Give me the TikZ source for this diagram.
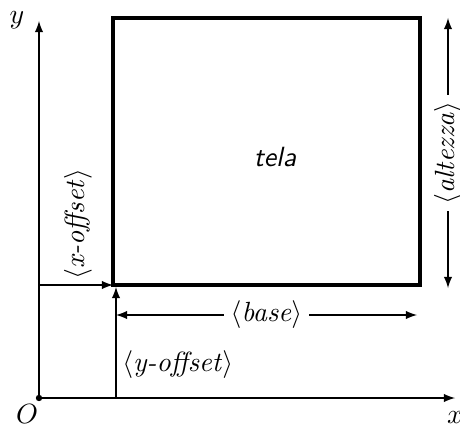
\documentclass[tikz,border=0pt]{standalone}
\usetikzlibrary{arrows}
\begin{document}
\begin{tikzpicture}[x=0.36pt,y=-0.36pt,>=latex,
  dim/.style={<->,line width=0.4pt},
  arr/.style={->,line width=0.4pt},
  lab/.style={inner sep=1pt}]
\useasboundingbox (0,0) rectangle (460,423);
\coordinate (O) at (39,398);
\coordinate (ytip) at (39,21);
\coordinate (xtip) at (455,398);
\coordinate (bl) at (113,285);
\coordinate (tr) at (420,18);
\coordinate (xo) at (39,285);
\coordinate (yo0) at (116,398);
\coordinate (yo1) at (116,287);
\coordinate (b0) at (116,315);
\coordinate (b1) at (417,315);
\coordinate (a0) at (448,18);
\coordinate (a1) at (448,288);
\draw[arr] (O) -- (ytip);
\draw[arr] (O) -- (xtip);
\fill (O) circle[radius=3.2];
\node[lab] (Olab) at (27,414) {$O$};
\node[lab] (ylab) at (17,20) {$y$};
\node[lab] (xlab) at (455,418) {$x$};
\draw[line width=1.2pt] (bl) rectangle (tr);
\node (tela) at (275,157) {\sffamily\itshape tela};
\draw[arr] (xo) -- (bl);
\node[lab,rotate=90] (xol) at (78,224) {$\langle$\textit{x-offset}$\rangle$};
\draw[arr] (yo0) -- (yo1);
\node[lab,anchor=west] (yol) at (119,365) {$\langle$\textit{y-offset}$\rangle$};
\draw[dim] (b0) -- node[fill=white,inner sep=2.5pt] (bl2) {$\langle$\textit{base}$\rangle$} (b1);
\draw[dim] (a0) -- node[fill=white,inner sep=2.5pt,rotate=90] (al) {$\langle$\textit{altezza}$\rangle$} (a1);
\end{tikzpicture}
\end{document}
